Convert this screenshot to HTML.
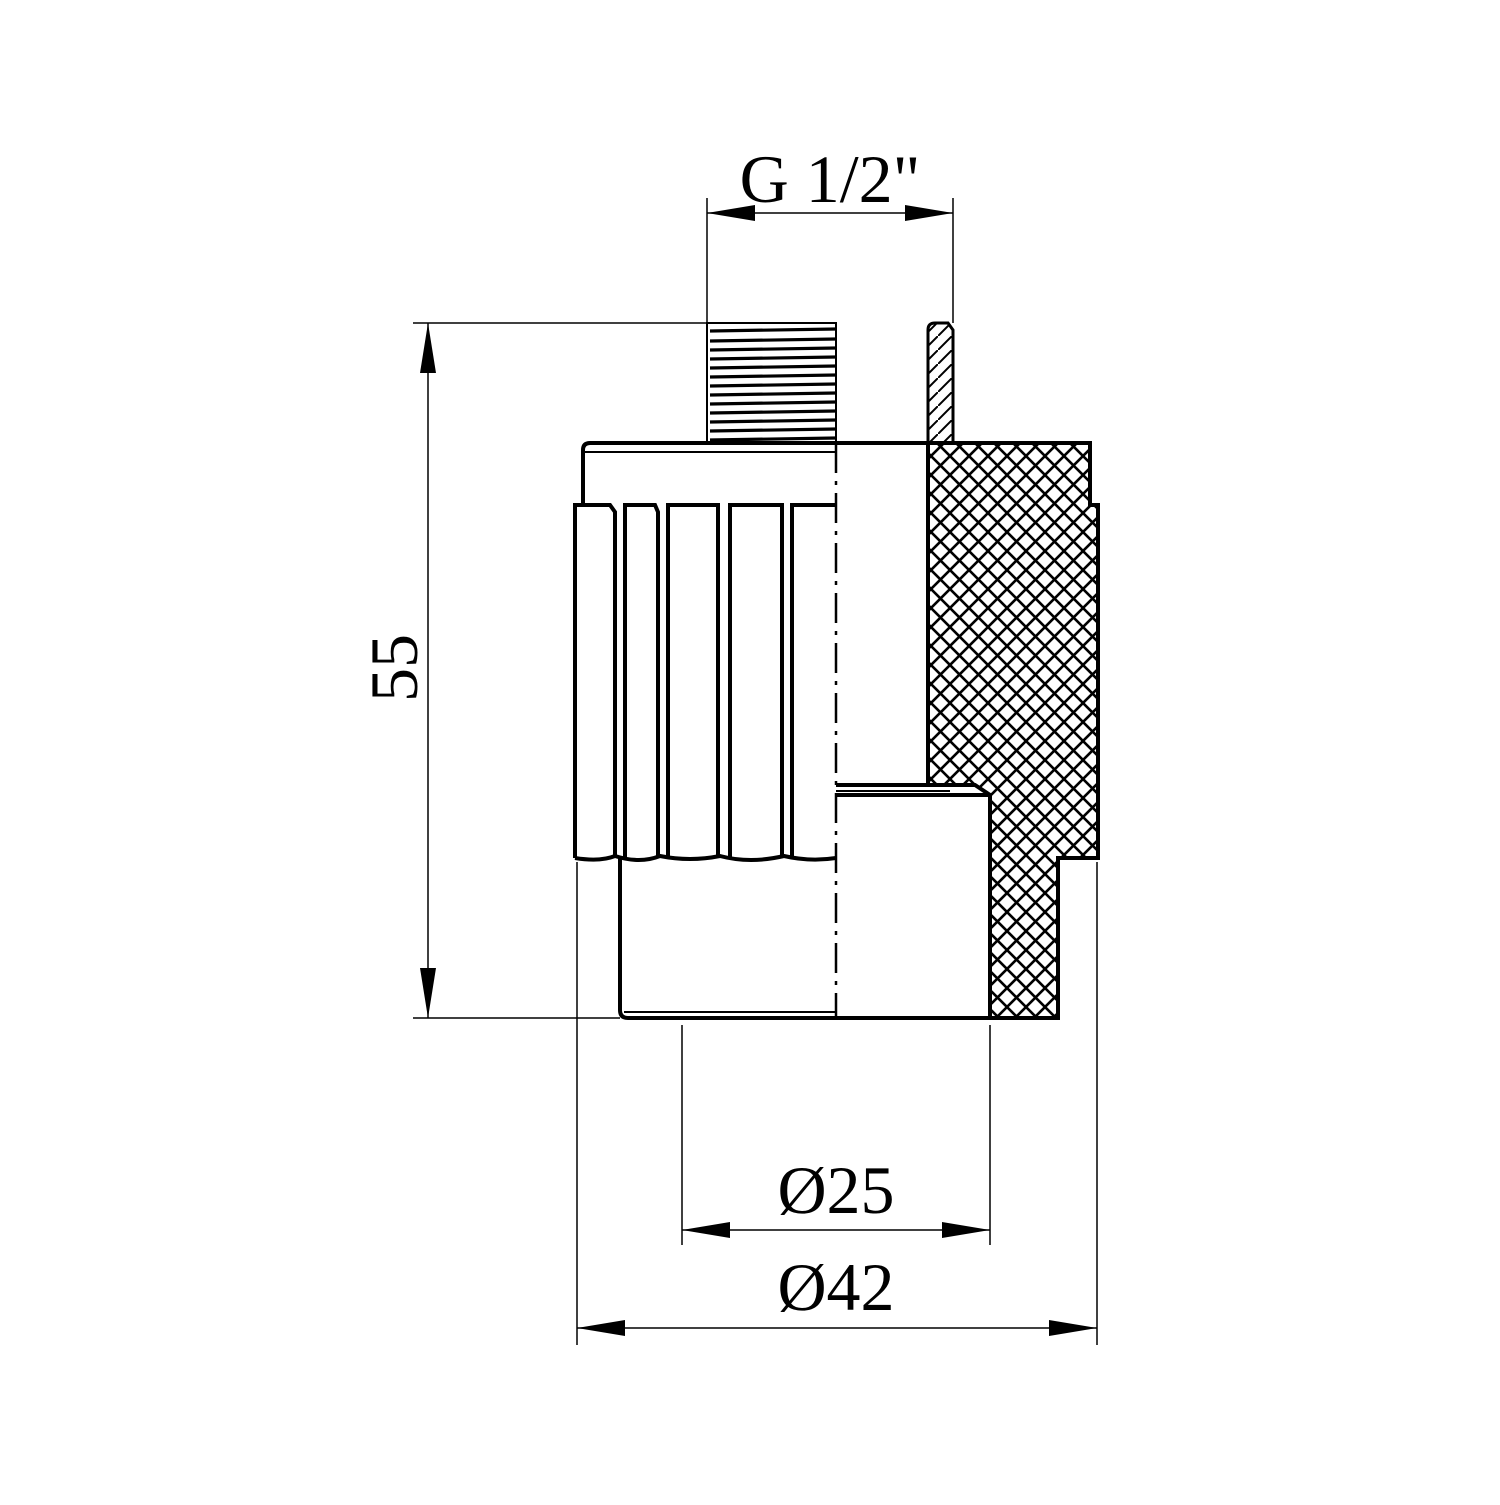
<!DOCTYPE html>
<html><head><style>html,body{margin:0;padding:0;background:#fff}</style></head>
<body>
<svg width="1500" height="1500" viewBox="0 0 1500 1500" xmlns="http://www.w3.org/2000/svg" font-family="Liberation Serif, serif">
<defs>
<pattern id="h" width="19" height="19" patternUnits="userSpaceOnUse">
<path d="M0 0L19 19M19 0L0 19" stroke="#000" stroke-width="2.6"/>
</pattern>
<pattern id="d" width="14" height="14" patternUnits="userSpaceOnUse">
<path d="M0 14L14 0" stroke="#000" stroke-width="2"/>
</pattern>
</defs>
<rect width="1500" height="1500" fill="#fff"/>
<g fill="none" stroke="#000">
<g stroke-width="1.5">
<line x1="707" y1="198" x2="707" y2="323"/>
<line x1="953" y1="198" x2="953" y2="323"/>
<line x1="707" y1="213" x2="953" y2="213"/>
<line x1="413" y1="323" x2="707" y2="323"/>
<line x1="413" y1="1018" x2="620" y2="1018"/>
<line x1="428" y1="323" x2="428" y2="1018"/>
<line x1="682" y1="1025" x2="682" y2="1245"/>
<line x1="990" y1="1025" x2="990" y2="1245"/>
<line x1="682" y1="1230" x2="990" y2="1230"/>
<line x1="577" y1="862" x2="577" y2="1345"/>
<line x1="1097" y1="862" x2="1097" y2="1345"/>
<line x1="577" y1="1328" x2="1097" y2="1328"/>
</g>
</g>
<g fill="#000">
<path d="M707 213L755 205L755 221Z"/><path d="M953 213L905 205L905 221Z"/>
<path d="M428 323L420 373L436 373Z"/><path d="M428 1018L420 968L436 968Z"/>
<path d="M682 1230L730 1222L730 1238Z"/><path d="M990 1230L942 1222L942 1238Z"/>
<path d="M577 1328L625 1320L625 1336Z"/><path d="M1097 1328L1049 1320L1049 1336Z"/>
</g>
<g font-size="68" text-anchor="middle" fill="#000">
<text x="830" y="202">G 1/2"</text>
<text x="836" y="1213">Ø25</text>
<text x="836" y="1310">Ø42</text>
<text transform="translate(417,668) rotate(-90)">55</text>
</g>
<path d="M928 443H1090V505H1098V858H1058V1018H990V795L975 785H928Z" fill="url(#h)" stroke="#000" stroke-width="4"/>
<path d="M928 330Q928 323 935 323H948L953 330V443H928Z" fill="url(#d)" stroke="#000" stroke-width="3"/>
<rect x="707" y="323" width="129" height="120" fill="#fff" stroke="#000" stroke-width="2"/>
<g stroke="#000" stroke-width="3.2">
<line x1="710" y1="331" x2="836" y2="329"/><line x1="710" y1="341" x2="836" y2="339"/>
<line x1="710" y1="350" x2="836" y2="348"/><line x1="710" y1="359" x2="836" y2="357"/>
<line x1="710" y1="368" x2="836" y2="366"/><line x1="710" y1="377" x2="836" y2="375"/>
<line x1="710" y1="386" x2="836" y2="384"/><line x1="710" y1="395" x2="836" y2="393"/>
<line x1="710" y1="404" x2="836" y2="402"/><line x1="710" y1="413" x2="836" y2="411"/>
<line x1="710" y1="422" x2="836" y2="420"/><line x1="710" y1="431" x2="836" y2="429"/>
<line x1="710" y1="440" x2="836" y2="438"/>
</g>
<g fill="none" stroke="#000" stroke-width="4">
<path d="M583 505V450Q583 443 590 443H928"/>
<line x1="585" y1="452" x2="836" y2="452" stroke-width="2"/>
<path d="M575 858V505H610L615 512V858"/>
<path d="M625 858V505H655L658 512V858"/>
<path d="M668 858V505H718V858"/>
<path d="M730 858V505H782V858"/>
<path d="M792 858V505H836"/>
<path d="M575 858Q600 862 615 856Q640 864 660 856Q690 862 720 856Q750 864 784 856Q810 862 836 858"/>
<path d="M620 858V1010Q620 1018 628 1018H1058"/>
<line x1="624" y1="1012" x2="836" y2="1012" stroke-width="2"/>
<path d="M836 785H928"/>
<path d="M836 795H990"/>
<line x1="836" y1="791" x2="950" y2="791" stroke-width="2"/>
<line x1="928" y1="443" x2="928" y2="785"/>
</g>
<line x1="836" y1="443" x2="836" y2="1018" stroke="#000" stroke-width="2.5" stroke-dasharray="30,8,4,8"/>
</svg>
</body></html>
